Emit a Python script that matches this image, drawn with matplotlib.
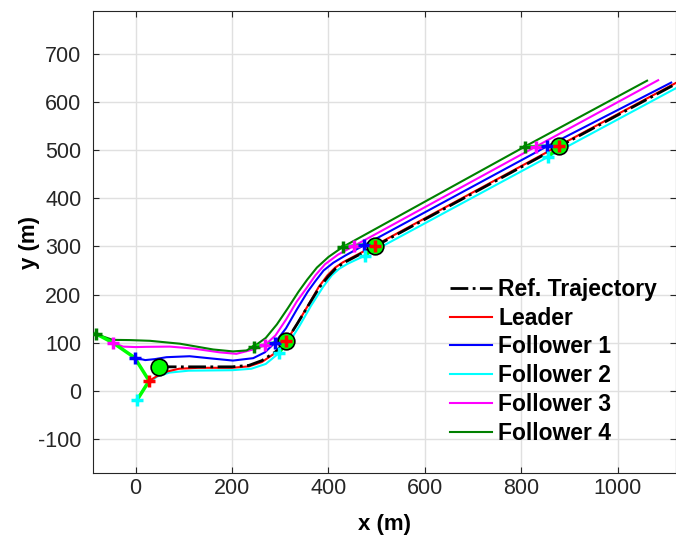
import matplotlib
matplotlib.use("Agg")
import matplotlib.pyplot as plt

plt.rcParams['font.family'] = ['Liberation Sans', 'DejaVu Sans']
plt.rcParams['axes.unicode_minus'] = False

# reference path (m)
ref_x = [48, 120, 200, 235, 262, 290, 313, 335, 358, 382, 400, 415, 430, 500, 878, 1135]
ref_y = [50, 50, 50, 53, 63, 81, 104, 139, 177, 216, 238, 254, 265, 302, 507, 645]

# leader
lead_x = [28, 45, 64, 90, 130, 200, 235, 262, 290, 313, 335, 358, 380, 398, 414, 430, 500, 878, 1135]
lead_y = [21, 31, 40, 46, 48, 48, 51, 60, 79, 104, 139, 178, 216, 240, 256, 267, 304, 509, 647]

# followers
f1_x = [-2, 20, 40, 64, 112, 161, 202, 244, 268, 289, 312, 335, 357, 373, 390, 410, 435, 473, 854, 1111]
f1_y = [69, 64, 66, 70, 72, 67, 63, 68, 80, 100, 130, 170, 206, 228, 250, 266, 281, 302, 508, 640]

f2_x = [3, 14, 27, 45, 70, 110, 200, 240, 270, 298, 318, 340, 364, 389, 407, 423, 440, 476, 856, 1135]
f2_y = [-19, 0, 17, 30, 38, 42, 43, 46, 56, 79, 100, 135, 177, 216, 240, 254, 264, 281, 486, 636]

f3_x = [-47, -26, 0, 23, 71, 119, 175, 209, 244, 268, 290, 312, 334, 355, 373, 393, 420, 453, 830, 1084]
f3_y = [100, 92, 91, 91.5, 92, 88, 80, 77, 86, 95, 115, 148, 185, 214, 240, 263, 283, 301, 507, 645]

f4_x = [-83, -65, -47, -12, 30, 92, 161, 202, 230, 245, 270, 293, 316, 338, 356, 376, 400, 430, 807, 1061]
f4_y = [119, 112, 106, 105.5, 104, 98, 86, 82, 84, 92, 110, 138, 172, 206, 231, 256, 278, 299, 507, 644]

# ref positions marked with circles
circ_x = [48, 313, 496, 878]
circ_y = [50, 104, 301, 508]

# formation snapshots: order F4, F3, F1, Leader, F2
snap_x = [[-83, -47, -2, 28, 3],
          [245, 268, 289, 313, 298],
          [430, 453, 473, 496, 476],
          [807, 830, 854, 878, 856]]
snap_y = [[119, 100, 69, 21, -19],
          [92, 95, 100, 104, 79],
          [299, 301, 303, 301, 280],
          [507, 507, 508, 508, 486]]

dkgreen = (0, 0.5, 0)
cols = [dkgreen, 'magenta', 'blue', 'red', 'cyan']

fig = plt.figure(figsize=(6.76, 5.41), dpi=100)
ax = fig.add_axes([92.7/676, 1-473.3/541, (676-92.7)/676, (473.3-11.3)/541])

lw = 1.5
hl, = ax.plot(lead_x, lead_y, color='red', lw=lw, zorder=3)
h1, = ax.plot(f1_x, f1_y, color='blue', lw=lw, zorder=3)
h2, = ax.plot(f2_x, f2_y, color='cyan', lw=lw, zorder=2)
h3, = ax.plot(f3_x, f3_y, color='magenta', lw=lw, zorder=3)
h4, = ax.plot(f4_x, f4_y, color=dkgreen, lw=lw, zorder=3)
hr, = ax.plot(ref_x, ref_y, color='black', ls='-.', lw=2, zorder=4)

for sx, sy in zip(snap_x, snap_y):
    ax.plot(sx, sy, color=(0, 1, 0), lw=2.5, zorder=5)

ax.plot(circ_x, circ_y, 'o', ms=12, mfc=(0, 1, 0), mec='black', mew=1.2, zorder=6)

for sx, sy in zip(snap_x, snap_y):
    for px, py, c in zip(sx, sy, cols):
        ax.plot(px, py, '+', color=c, ms=9, mew=2.5, zorder=7)

ax.set_xlim(-89, 1121)
ax.set_ylim(-171, 788)
ax.set_xticks([0, 200, 400, 600, 800, 1000])
ax.set_yticks([-100, 0, 100, 200, 300, 400, 500, 600, 700])
ax.grid(True, color=(0.88, 0.88, 0.88), lw=1)
ax.set_axisbelow(True)
ax.tick_params(direction='in', top=True, right=True, labelsize=15.5,
               colors=(0.15, 0.15, 0.15), length=4)
ax.tick_params(axis='y', pad=8)
for s in ax.spines.values():
    s.set_color((0.15, 0.15, 0.15))
ax.set_xlabel('x (m)', fontsize=16, fontweight='bold', labelpad=10.5)
ax.set_ylabel('y (m)', fontsize=16, fontweight='bold', labelpad=-1)

ax.legend([hr, hl, h1, h2, h3, h4],
          ['Ref. Trajectory', 'Leader', 'Follower 1', 'Follower 2', 'Follower 3', 'Follower 4'],
          loc='upper left', bbox_to_anchor=(450/676, 1-278/541), bbox_transform=fig.transFigure,
          frameon=False, prop={'weight': 'bold', 'size': 16.5}, handlelength=1.85,
          handletextpad=0.25, labelspacing=0.25, borderpad=0, borderaxespad=0)

fig.savefig('out.png', dpi=100)
